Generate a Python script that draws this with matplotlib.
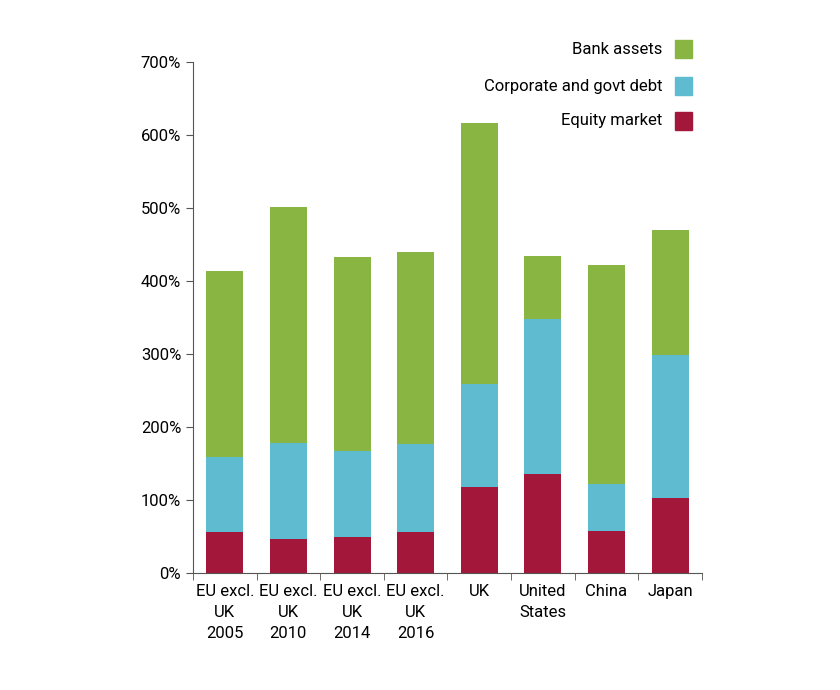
import matplotlib
matplotlib.use("Agg")
import matplotlib.pyplot as plt
from matplotlib.patches import Rectangle

categories = ["EU excl.\nUK\n2005", "EU excl.\nUK\n2010", "EU excl.\nUK\n2014", "EU excl.\nUK\n2016",
              "UK", "United\nStates", "China", "Japan"]
equity = [56, 47, 49, 56, 118, 136, 58, 103]
corp_govt = [103, 131, 118, 121, 141, 212, 64, 196]
bank = [255, 323, 266, 263, 357, 86, 300, 171]
yticks = [0, 100, 200, 300, 400, 500, 600, 700]

C_EQ, C_CG, C_BA = "#a3183a", "#5fbcd0", "#89b543"
plt.rcParams["font.family"] = "Roboto"

fig = plt.figure(figsize=(8.4, 6.9), dpi=100)
ax = fig.add_axes([193/840, 1-573/690, (702-193)/840, (573-62)/690])
x = list(range(len(categories)))
w = 0.58
ax.bar(x, equity, w, color=C_EQ)
ax.bar(x, corp_govt, w, bottom=equity, color=C_CG)
b2 = [e + c for e, c in zip(equity, corp_govt)]
ax.bar(x, bank, w, bottom=b2, color=C_BA)

ax.set_ylim(0, 700)
ax.set_xlim(-0.5, len(categories) - 0.5)
ax.set_yticks(yticks)
ax.set_yticklabels([f"{v}%" for v in yticks], fontsize=12)
ax.set_xticks(x)
ax.set_xticklabels(categories, fontsize=12, linespacing=1.5)
ax.tick_params(axis="x", length=0, pad=8)
ax.set_xticks([i + 0.5 for i in range(-1, len(categories))], minor=True)
ax.tick_params(axis="x", which="minor", length=5, color="#555")
ax.tick_params(axis="y", length=5, color="#555")
for s in ["top", "right"]:
    ax.spines[s].set_visible(False)
ax.spines["left"].set_color("#555")
ax.spines["bottom"].set_color("#555")

legend = [("Bank assets", C_BA, 49), ("Corporate and govt debt", C_CG, 86), ("Equity market", C_EQ, 121)]
for label, col, yp in legend:
    fig.text(662/840, 1 - yp/690, label, ha="right", va="center", fontsize=12)
    fig.patches.append(Rectangle((675/840, 1 - (yp + 9)/690), 17/840, 18/690,
                                 transform=fig.transFigure, color=col))

fig.savefig("out.png", dpi=100)
